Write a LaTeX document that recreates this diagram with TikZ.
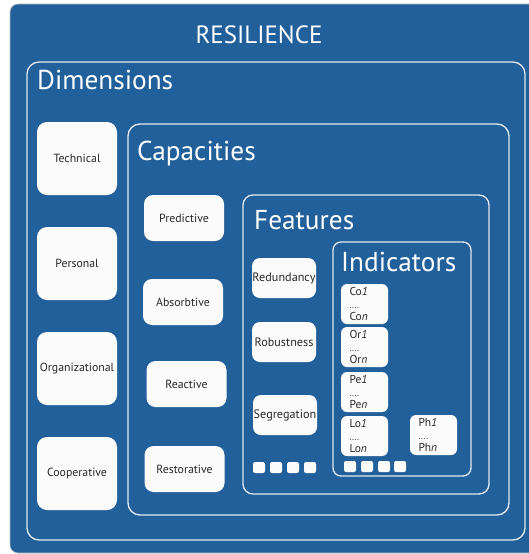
\documentclass[tikz,border=0pt]{standalone}
\usepackage{fontspec}
\setmainfont{PT Sans}
\definecolor{resblue}{RGB}{34,96,155}
\definecolor{labelgray}{RGB}{40,40,40}
\definecolor{boxwhite}{RGB}{251,251,251}
\definecolor{frameline}{RGB}{228,234,242}
\begin{document}
\begin{tikzpicture}[x=1pt,y=-1pt,
  frame/.style={draw=frameline, line width=1.3pt, rounded corners=#1, inner sep=0pt},
  titletext/.style={text=white, font=\fontsize{27.3}{30}\selectfont, inner sep=0pt, anchor=base west},
  wbox/.style={fill=boxwhite, draw=none, rounded corners=#1, text=labelgray,
    font=\fontsize{11.8}{13}\selectfont, inner sep=0pt, align=center},
  dimbox/.style={wbox=10, minimum width=80pt, minimum height=73pt},
  capbox/.style={wbox=9, minimum width=80pt, minimum height=46pt},
  featbox/.style={wbox=8, minimum width=64pt, minimum height=40pt, font=\fontsize{12.2}{13}\selectfont},
  indbox/.style={wbox=6, minimum width=47pt, minimum height=40pt, text width=30pt,
    inner xsep=8.5pt, align=left, font=\fontsize{11.5}{12}\selectfont},
  sq/.style={fill=boxwhite, draw=none, rounded corners=2pt, minimum width=12pt, minimum height=11pt, inner sep=0pt}
]
\useasboundingbox (0,0) rectangle (529,554);
% outer blue panel
\path[fill=resblue, draw=gray!55, line width=0.6pt, rounded corners=8pt] (10,4) rectangle (560,553);
\node[text=white, font=\fontsize{25}{27}\selectfont, inner sep=0pt, anchor=base] (restitle) at (259,43) {RESILIENCE};

% frames
\node[frame=12pt, minimum width=498pt, minimum height=478pt] (dimframe) at (276,301) {};
\node[frame=12pt, minimum width=381pt, minimum height=391pt] (capframe) at (318.5,319.5) {};
\node[frame=10pt, minimum width=246pt, minimum height=299pt] (featframe) at (366,344.5) {};
\node[frame=8pt, minimum width=138pt, minimum height=234pt] (indframe) at (402,359) {};

% titles
\node[titletext] (dimtitle) at (37,89) {Dimensions};
\node[titletext] (captitle) at (137,160) {Capacities};
\node[titletext] (feattitle) at (254,229) {Features};
\node[titletext] (indtitle) at (341,271) {Indicators};

% dimensions
\node[dimbox] (tech) at (77,158.5) {Technical};
\node[dimbox] (pers) at (77,263.5) {Personal};
\node[dimbox] (org) at (77,368.5) {Organizational};
\node[dimbox] (coop) at (77,473.5) {Cooperative};

% capacities
\node[capbox] (pred) at (184,218) {Predictive};
\node[capbox] (absb) at (183,302) {Absorbtive};
\node[capbox] (react) at (186.5,384) {Reactive};
\node[capbox] (rest) at (184.5,469) {Restorative};

% features
\node[featbox] (redun) at (284,278) {Redundancy};
\node[featbox] (robust) at (284,342) {Robustness};
\node[featbox] (segr) at (285,415) {Segregation};
\node[sq] (fsq1) at (259,467.5) {};
\node[sq] (fsq2) at (276,467.5) {};
\node[sq] (fsq3) at (293,467.5) {};
\node[sq] (fsq4) at (310,467.5) {};

% indicators
\node[indbox] (ico) at (364.5,304) {Co\textit{1}\\[1pt]{\fontsize{9}{9}\selectfont ....}\\Co\textit{n}};
\node[indbox] (ior) at (364.5,347) {Or\textit{1}\\[1pt]{\fontsize{9}{9}\selectfont ....}\\Or\textit{n}};
\node[indbox] (ipe) at (364.5,392) {Pe\textit{1}\\[1pt]{\fontsize{9}{9}\selectfont ....}\\Pe\textit{n}};
\node[indbox] (ilo) at (364.5,436) {Lo\textit{1}\\[1pt]{\fontsize{9}{9}\selectfont ....}\\Lo\textit{n}};
\node[indbox] (iph) at (433.5,435) {Ph\textit{1}\\[1pt]{\fontsize{9}{9}\selectfont ....}\\Ph\textit{n}};
\node[sq] (isq1) at (350,466.5) {};
\node[sq] (isq2) at (367,466.5) {};
\node[sq] (isq3) at (384,466.5) {};
\node[sq] (isq4) at (400,466.5) {};
\end{tikzpicture}
\end{document}
